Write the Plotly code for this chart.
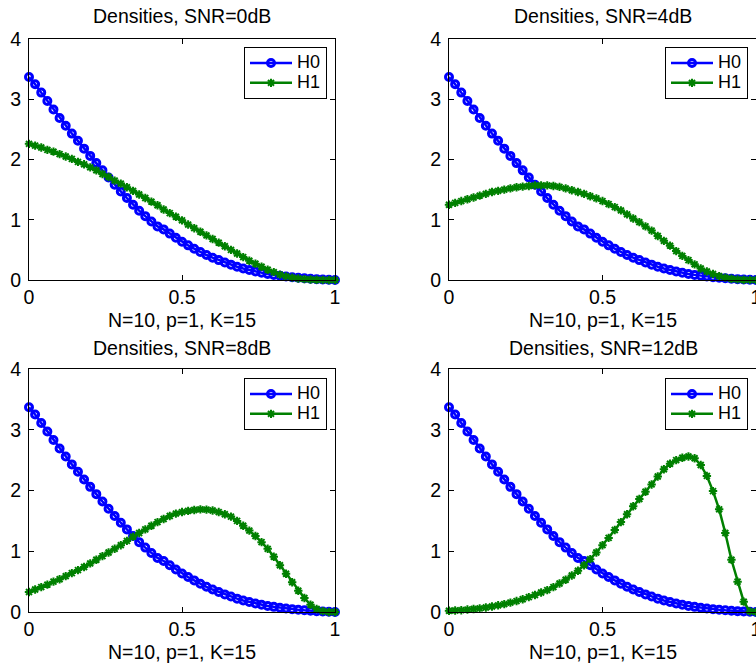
import plotly.graph_objects as go

# ---------------- data ----------------
x_vals = [round(0.02 * i, 2) for i in range(51)]

h0 = [3.37, 3.25, 3.11, 2.97, 2.83, 2.69, 2.56, 2.43, 2.31, 2.18,
      2.06, 1.94, 1.82, 1.70, 1.58, 1.47, 1.36, 1.25, 1.15, 1.06,
      0.97, 0.89, 0.84, 0.77, 0.70, 0.635, 0.575, 0.52, 0.465, 0.415,
      0.37, 0.33, 0.29, 0.255, 0.22, 0.19, 0.165, 0.14, 0.12, 0.10,
      0.085, 0.07, 0.058, 0.047, 0.037, 0.028, 0.02, 0.014, 0.008, 0.004,
      0.0]

h1_0db = [2.26, 2.23, 2.20, 2.16, 2.13, 2.09, 2.05, 2.01, 1.96, 1.92,
          1.87, 1.82, 1.76, 1.71, 1.65, 1.60, 1.54, 1.48, 1.42, 1.36,
          1.30, 1.24, 1.17, 1.11, 1.05, 0.99, 0.92, 0.86, 0.80, 0.74,
          0.68, 0.62, 0.56, 0.50, 0.44, 0.38, 0.32, 0.27, 0.22, 0.17,
          0.13, 0.09, 0.06, 0.04, 0.025, 0.015, 0.008, 0.004, 0.002, 0.001,
          0.0]

h1_4db = [1.25, 1.28, 1.31, 1.34, 1.37, 1.40, 1.43, 1.46, 1.48, 1.50,
          1.52, 1.54, 1.55, 1.56, 1.57, 1.57, 1.57, 1.56, 1.545, 1.52,
          1.49, 1.46, 1.43, 1.39, 1.355, 1.31, 1.26, 1.21, 1.155, 1.09,
          1.02, 0.96, 0.89, 0.82, 0.73, 0.65, 0.57, 0.48, 0.40, 0.33,
          0.26, 0.19, 0.14, 0.10, 0.065, 0.04, 0.02, 0.01, 0.005, 0.002,
          0.0]

h1_8db = [0.33, 0.37, 0.41, 0.45, 0.50, 0.54, 0.59, 0.64, 0.69, 0.74,
          0.80, 0.86, 0.92, 0.98, 1.04, 1.10, 1.17, 1.24, 1.30, 1.36,
          1.42, 1.48, 1.53, 1.58, 1.62, 1.645, 1.665, 1.68, 1.69, 1.685,
          1.67, 1.645, 1.61, 1.57, 1.50, 1.42, 1.34, 1.25, 1.15, 1.04,
          0.91, 0.77, 0.63, 0.49, 0.35, 0.23, 0.12, 0.05, 0.015, 0.0,
          0.0]

h1_12db = [0.02, 0.025, 0.03, 0.04, 0.05, 0.06, 0.075, 0.09, 0.11, 0.13,
           0.155, 0.18, 0.21, 0.245, 0.28, 0.32, 0.36, 0.41, 0.47, 0.53,
           0.60, 0.68, 0.77, 0.87, 0.98, 1.10, 1.22, 1.35, 1.48, 1.61,
           1.74, 1.86, 1.98, 2.10, 2.23, 2.35, 2.44, 2.50, 2.54, 2.56,
           2.53, 2.42, 2.24, 1.99, 1.69, 1.30, 0.86, 0.50, 0.17, 0.01,
           0.0]

titles = ["Densities, SNR=0dB", "Densities, SNR=4dB",
          "Densities, SNR=8dB", "Densities, SNR=12dB"]
xlabel = "N=10, p=1, K=15"
series_names = ["H0", "H1"]
h1_list = [h1_0db, h1_4db, h1_8db, h1_12db]
x_ticks = [0, 0.5, 1]
x_ticktext = ["0", "0.5", "1"]
y_ticks = [0, 1, 2, 3, 4]

# ---------------- layout geometry ----------------
W, H = 756, 667
FONT = "Liberation Sans, Arial, sans-serif"
FS = 19.5
LEG_FS = 13
BLUE = "#0000FF"
GREEN = "#008000"


def px(v):
    return v / W


def py(v):
    return 1 - v / H


# panels: (left, right, top, bottom) in pixels
panels = [
    (29, 335, 39, 280),
    (449, 756, 39, 280),
    (29, 335, 369, 612),
    (449, 756, 369, 612),
]
legend_pos = [(327, 47), (748, 47), (327, 378), (748, 378)]
title_y = [16, 16, 348, 348]
xlabel_y = [320, 320, 652, 652]
title_x = [182, 603, 182, 603]

fig = go.Figure()
annotations = []
layout_kw = {}


def leg_name(s):
    return '<span style="font-size:18px">%s</span>' % s


for i, (l, r, t, b) in enumerate(panels):
    k = "" if i == 0 else str(i + 1)
    xa, ya = "x" + k, "y" + k
    lg = "legend" + k
    fig.add_trace(go.Scatter(
        x=x_vals, y=h0, name=leg_name(series_names[0]), mode="lines+markers",
        xaxis=xa, yaxis=ya, legend=lg,
        line=dict(color=BLUE, width=2.5),
        marker=dict(symbol="circle-open", size=7, color=BLUE,
                    line=dict(color=BLUE, width=3)),
        cliponaxis=False))
    fig.add_trace(go.Scatter(
        x=x_vals, y=h1_list[i], name=leg_name(series_names[1]),
        mode="lines+markers",
        xaxis=xa, yaxis=ya, legend=lg,
        line=dict(color=GREEN, width=2.5),
        marker=dict(symbol="asterisk-open", size=7, color=GREEN,
                    line=dict(color=GREEN, width=2)),
        cliponaxis=False))

    axis_common = dict(showline=True, linecolor="black", linewidth=1,
                       mirror="ticks", ticks="inside", ticklen=5,
                       tickcolor="black", showgrid=False, zeroline=False,
                       automargin=False, ticklabeloverflow="allow",
                       tickfont=dict(family=FONT, size=FS, color="black"),
                       fixedrange=True)
    layout_kw["xaxis" + k] = dict(
        domain=[px(l), px(r)], range=[0, 1], anchor=ya,
        tickvals=x_ticks, ticktext=x_ticktext, ticklabelstandoff=0,
        **axis_common)
    layout_kw["yaxis" + k] = dict(
        domain=[py(b), py(t)], range=[0, 4], anchor=xa,
        tickvals=y_ticks, ticklabelstandoff=3, **axis_common)

    lx, ly = legend_pos[i]
    layout_kw[lg] = dict(
        x=px(lx), y=py(ly), xanchor="right", yanchor="top",
        xref="paper", yref="paper",
        bgcolor="white", bordercolor="black", borderwidth=1,
        font=dict(family=FONT, size=LEG_FS, color="black"),
        tracegroupgap=0, itemwidth=42)

    annotations.append(dict(
        text=titles[i], x=px(title_x[i]), y=py(title_y[i]),
        xref="paper", yref="paper", xanchor="center", yanchor="middle",
        borderpad=0,
        showarrow=False, font=dict(family=FONT, size=FS, color="black")))
    annotations.append(dict(
        text=xlabel, x=px(title_x[i]), y=py(xlabel_y[i]),
        xref="paper", yref="paper", xanchor="center", yanchor="middle",
        borderpad=0,
        showarrow=False, font=dict(family=FONT, size=FS, color="black")))

fig.update_layout(
    width=W, height=H,
    margin=dict(l=0, r=0, t=0, b=0, autoexpand=False),
    paper_bgcolor="white", plot_bgcolor="white",
    showlegend=True,
    hovermode=False,
    annotations=annotations,
    **layout_kw,
)

fig.write_html(
    "out.html",
    config={"displayModeBar": False, "staticPlot": False},
    post_script="document.body.style.margin='0';"
                "document.body.style.overflow='hidden';",
)
